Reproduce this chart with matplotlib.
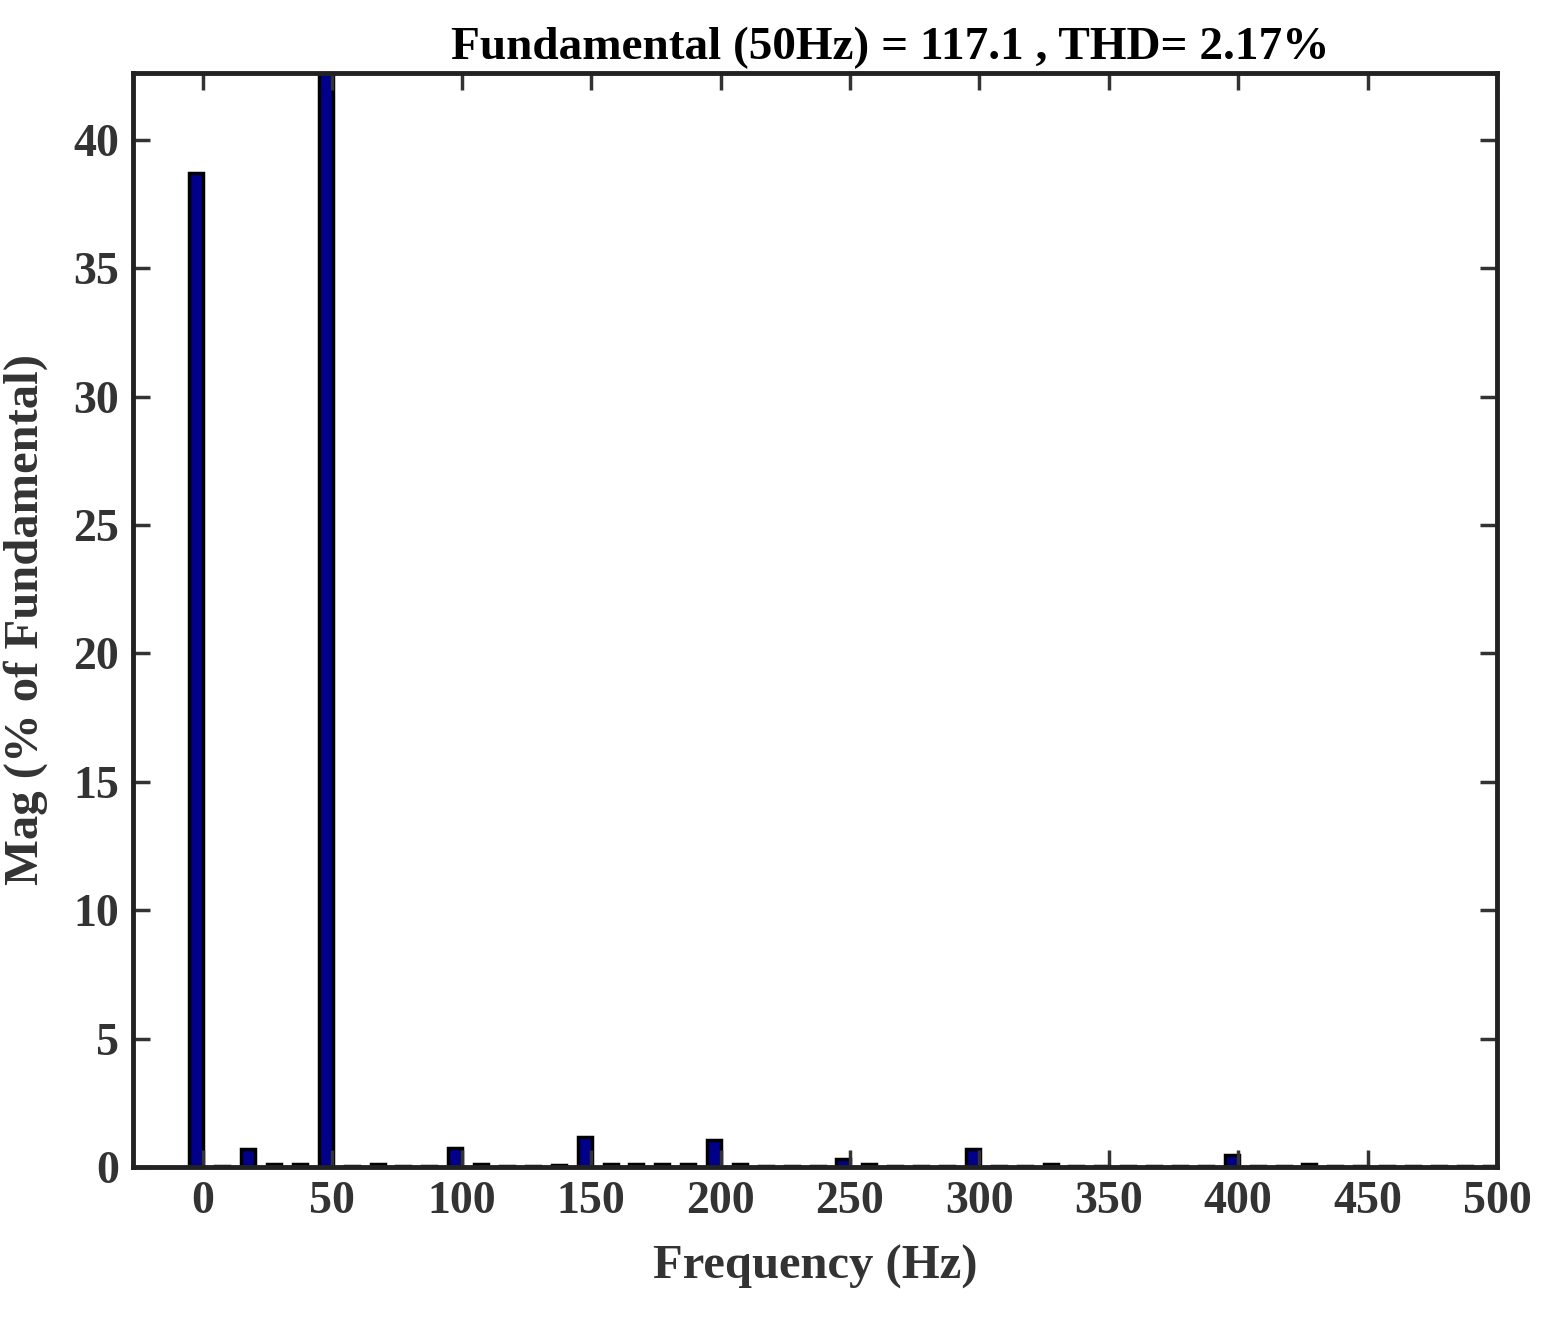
import matplotlib
matplotlib.use("Agg")
import matplotlib.pyplot as plt

# harmonic bins, 10 Hz apart (centres at -2.5 + 10k Hz)
freqs = [-2.5 + 10 * k for k in range(51)]
mags = [38.7, 0.05, 0.7, 0.1, 0.1, 100, 0.05, 0.1, 0.03, 0.05,
        0.75, 0.1, 0.05, 0.03, 0.08, 1.15, 0.12, 0.1, 0.1, 0.1,
        1.05, 0.12, 0.05, 0.05, 0.05, 0.3, 0.1, 0.05, 0.05, 0.05,
        0.7, 0.05, 0.05, 0.1, 0.05, 0.05, 0.05, 0.05, 0.05, 0.05,
        0.45, 0.05, 0.05, 0.1, 0.05, 0.05, 0.05, 0.05, 0.05, 0.05, 0.05]
xticks = list(range(0, 501, 50))
yticks = [0, 5, 10, 15, 20, 25, 30, 35, 40]

txt = "#333333"
plt.rcParams['font.family'] = ['Liberation Serif', 'DejaVu Serif']
plt.rcParams['font.weight'] = 'bold'

fig = plt.figure(figsize=(15.53, 13.24), dpi=100)
ax = fig.add_axes([0.0856, 0.1186, 0.8784, 0.8263])
ax.bar(freqs, mags, width=5.4, color='#00008B', edgecolor='black', linewidth=2.5)

ax.set_xlim(-27, 500)
ax.set_ylim(0, 42.6)
ax.set_xticks(xticks)
ax.set_yticks(yticks)
ax.tick_params(direction='in', length=12, width=2.5, top=True, right=True,
               labelsize=33, colors=txt, pad=10)
for lab in ax.get_xticklabels() + ax.get_yticklabels():
    lab.set_fontweight('bold')
for s in ax.spines.values():
    s.set_linewidth(3.5)
    s.set_color('#222222')

ax.set_xlabel('Frequency (Hz)', fontsize=35, fontweight='bold', color=txt, labelpad=16)
ax.set_ylabel('Mag (% of Fundamental)', fontsize=35, fontweight='bold', color=txt, labelpad=18)
ax.set_title('Fundamental (50Hz) = 117.1 , THD= 2.17%', fontsize=34,
             fontweight='bold', color='black', x=0.555, pad=10)

fig.savefig('out.png', dpi=100)
